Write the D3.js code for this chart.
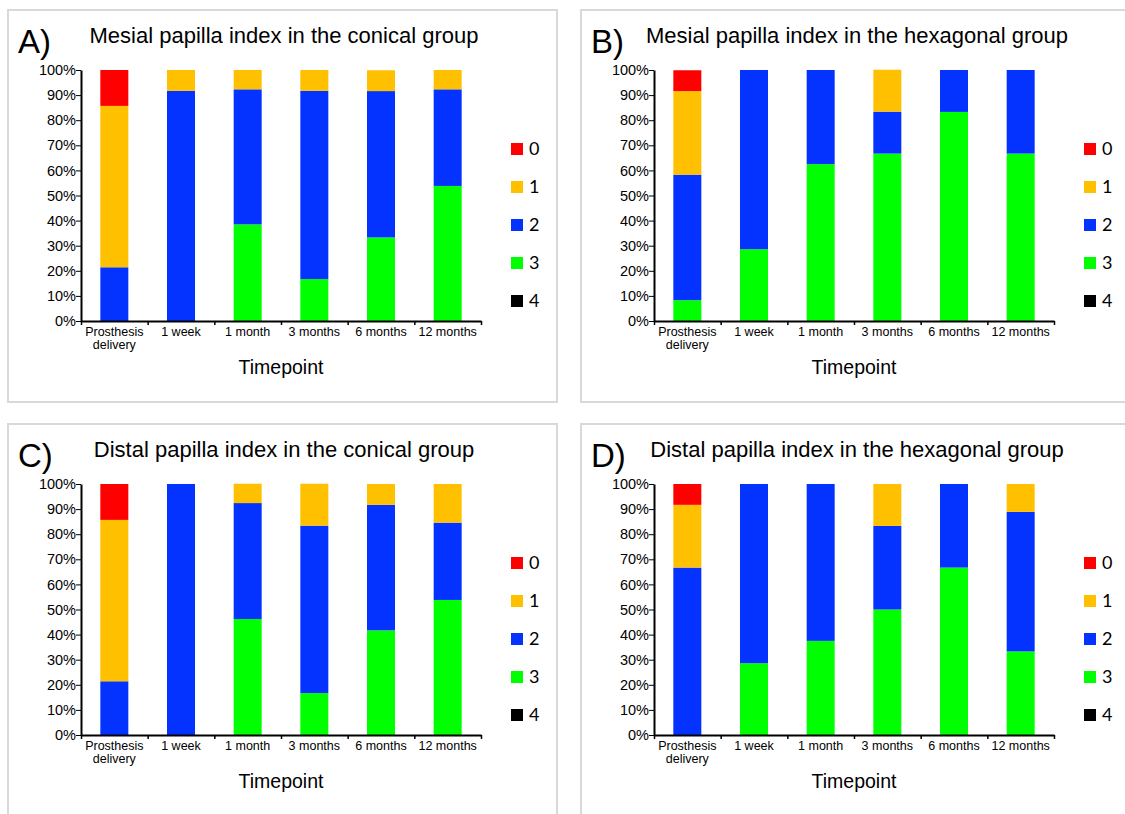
<!DOCTYPE html>
<html>
<head>
<meta charset="utf-8">
<script src="https://cdn.jsdelivr.net/npm/d3@7"></script>
<style>
	body { margin: 0; background: #fff; }
	svg { display: block; font-family: "Liberation Sans", Arial, sans-serif; }
</style>
</head>
<body>
<div id="chart"></div>
<script>
// timepoints on the x axis (first one wraps on two lines)
var timepoints = ["Prosthesis delivery", "1 week", "1 month", "3 months", "6 months", "12 months"];
var scores = ["0", "1", "2", "3", "4"];
var scoreColors = ["#ff0000", "#ffc000", "#0433ff", "#00ff00", "#000000"];
var yTicks = [0, 10, 20, 30, 40, 50, 60, 70, 80, 90, 100];

// percentages per score, one value per timepoint
var mesialConical = {
	"0": [14.3, 0, 0, 0, 0, 0],
	"1": [64.3, 8.3, 7.7, 8.3, 8.3, 7.7],
	"2": [21.4, 91.7, 53.8, 75.0, 58.3, 38.5],
	"3": [0, 0, 38.5, 16.7, 33.3, 53.8],
	"4": [0, 0, 0, 0, 0, 0]
};
var mesialHexagonal = {
	"0": [8.3, 0, 0, 0, 0, 0],
	"1": [33.3, 0, 0, 16.7, 0, 0],
	"2": [50.0, 71.4, 37.5, 16.7, 16.7, 33.3],
	"3": [8.3, 28.6, 62.5, 66.7, 83.3, 66.7],
	"4": [0, 0, 0, 0, 0, 0]
};
var distalConical = {
	"0": [14.3, 0, 0, 0, 0, 0],
	"1": [64.3, 0, 7.7, 16.7, 8.3, 15.4],
	"2": [21.4, 100, 46.2, 66.7, 50.0, 30.8],
	"3": [0, 0, 46.2, 16.7, 41.7, 53.8],
	"4": [0, 0, 0, 0, 0, 0]
};
var distalHexagonal = {
	"0": [8.3, 0, 0, 0, 0, 0],
	"1": [25.0, 0, 0, 16.7, 0, 11.1],
	"2": [66.7, 71.4, 62.5, 33.3, 33.3, 55.6],
	"3": [0, 28.6, 37.5, 50.0, 66.7, 33.3],
	"4": [0, 0, 0, 0, 0, 0]
};

var panels = [
	{letter: "A)", title: "Mesial papilla index in the conical group", data: mesialConical, x: 8, y: 10},
	{letter: "B)", title: "Mesial papilla index in the hexagonal group", data: mesialHexagonal, x: 581, y: 10},
	{letter: "C)", title: "Distal papilla index in the conical group", data: distalConical, x: 8, y: 424},
	{letter: "D)", title: "Distal papilla index in the hexagonal group", data: distalHexagonal, x: 581, y: 424}
];

var W = 1125, H = 814;
var svg = d3.select("#chart").append("svg")
	.attr("width", W).attr("height", H);

function drawPanel(p){
	var g = svg.append("g").attr("transform", "translate(" + p.x + "," + p.y + ")");

	g.append("rect")
		.attr("x", 0).attr("y", 0)
		.attr("width", 549).attr("height", 392)
		.attr("fill", "none")
		.attr("stroke", "#d9d9d9")
		.attr("stroke-width", 2);

	g.append("text")
		.attr("x", 10).attr("y", 43)
		.style("font-size", "33px")
		.text(p.letter);

	g.append("text")
		.attr("x", 276).attr("y", 33)
		.attr("text-anchor", "middle")
		.style("font-size", "22px")
		.text(p.title);

	var plotX = 73, plotY = 60, pw = 400, ph = 251;

	var x = d3.scaleBand().domain(timepoints).range([0, pw]).paddingInner(0.58).paddingOuter(0.29);
	var xTicks = d3.scaleLinear().domain([0, timepoints.length]).range([0, pw]);
	var y = d3.scaleLinear().domain([0, 100]).range([ph, 0]);

	var chartGroup = g.append("g").attr("transform", "translate(" + plotX + "," + plotY + ")");

	// stack from score 4 at the bottom to score 0 on top
	var rows = timepoints.map(function(t, i){
		var r = {time: t};
		scores.forEach(function(s){ r[s] = p.data[s][i]; });
		return r;
	});
	var stack = d3.stack().keys(scores.slice().reverse());
	var layers = stack(rows);

	chartGroup.selectAll(".layer")
		.data(layers)
		.enter().append("g")
		.attr("class", "layer")
		.attr("fill", function(d){ return scoreColors[scores.indexOf(d.key)]; })
		.selectAll("rect")
		.data(function(d){ return d; })
		.enter().append("rect")
		.attr("x", function(d){ return x(d.data.time); })
		.attr("y", function(d){ return y(d[1]); })
		.attr("width", x.bandwidth())
		.attr("height", function(d){ return y(d[0]) - y(d[1]); });

	var yAxis = d3.axisLeft(y).tickValues(yTicks).tickSize(5).tickSizeOuter(0)
		.tickFormat(function(d){ return d + "%"; });
	var ya = chartGroup.append("g").attr("class", "axisy").call(yAxis);
	ya.select(".domain").attr("stroke", "#000").attr("stroke-width", 2);
	ya.selectAll("text").style("font-size", "14.5px").style("font-family", "Liberation Sans, Arial").attr("x", -5);

	var xa = chartGroup.append("g").attr("class", "axisx")
		.attr("transform", "translate(0," + ph + ")")
		.call(d3.axisBottom(xTicks).tickValues(d3.range(timepoints.length + 1)).tickSize(4).tickSizeOuter(0).tickFormat(""));
	xa.select(".domain").attr("stroke", "#000").attr("stroke-width", 2);
	xa.selectAll(".tick line").attr("stroke-width", 1.5);

	// category labels
	timepoints.forEach(function(t){
		var words = t == "Prosthesis delivery" ? ["Prosthesis", "delivery"] : [t];
		var lab = chartGroup.append("text")
			.attr("x", x(t) + x.bandwidth() / 2)
			.attr("y", ph + 15)
			.attr("text-anchor", "middle")
			.style("font-size", "12.5px");
		words.forEach(function(w, k){
			lab.append("tspan").attr("x", x(t) + x.bandwidth() / 2).attr("dy", k == 0 ? 0 : 13).text(w);
		});
	});

	chartGroup.append("text")
		.attr("x", pw / 2)
		.attr("y", ph + 53)
		.attr("text-anchor", "middle")
		.style("font-size", "19.5px")
		.text("Timepoint");

	// legend
	var leg = g.append("g").attr("transform", "translate(503," + 133 + ")");
	scores.forEach(function(s, i){
		leg.append("rect")
			.attr("x", 0).attr("y", i * 38)
			.attr("width", 12).attr("height", 12)
			.attr("fill", scoreColors[i]);
		leg.append("text")
			.attr("x", 18).attr("y", i * 38 + 12)
			.style("font-family", "Lato, 'Open Sans', sans-serif")
			.style("font-size", "18px")
			.text(s);
	});
}

panels.forEach(drawPanel);
</script>
</body>
</html>
